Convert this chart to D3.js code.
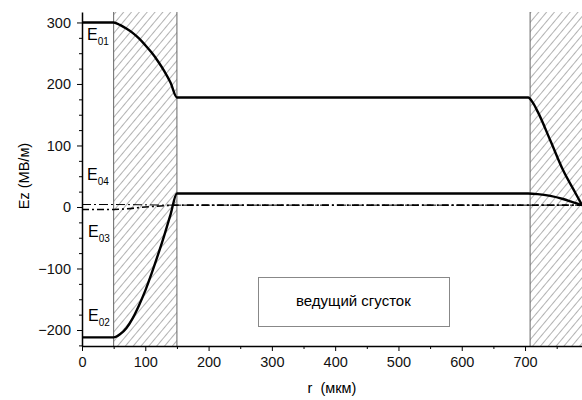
<!DOCTYPE html>
<html>
<head>
<meta charset="utf-8">
<script src="https://cdn.jsdelivr.net/npm/d3@7"></script>
<style>
  body { margin: 0; background: #fff; }
  svg { font-family: "Liberation Sans", Arial, sans-serif; }
</style>
</head>
<body>
<div id="chart"></div>
<script>
// Field curves Ez(r)
const rE01 = [0, 50, 60, 70, 80, 90, 100, 110, 120, 130, 140, 150, 705, 712, 720, 740, 760, 780, 790];
const vE01 = [300, 300, 296, 290, 283, 274, 263, 251, 237, 221, 202, 178, 178, 170, 155, 108, 60, 22, 3];
const rE02 = [0, 50, 60, 70, 80, 90, 100, 110, 120, 130, 140, 150, 705, 720, 740, 760, 775, 790];
const vE02 = [-212, -212, -207, -197, -181, -160, -136, -108, -78, -46, -12, 22, 22, 21, 18, 13, 8, 3];
const rE03 = [0, 50, 70, 100, 130, 150, 790];
const vE03 = [-4, -4, -3, 0, 2, 3, 3];
const rE04 = [0, 50, 150, 790];
const vE04 = [4, 4, 3, 3];

// hatched regions (r ranges)
const hatchZones = [[50, 150], [708, 790]];

const xTicks = [0, 100, 200, 300, 400, 500, 600, 700];
const yTicks = [-200, -100, 0, 100, 200, 300];

const width = 582, height = 400;
const margin = {left: 82, right: 0, top: 12, bottom: 54};

const svg = d3.select('#chart').append('svg')
    .attr('width', width)
    .attr('height', height);

const x = d3.scaleLinear().domain([0, 790]).range([margin.left, width - margin.right]);
const y = d3.scaleLinear().domain([-226, 317]).range([height - margin.bottom, margin.top]);

// hatch pattern
const defs = svg.append('defs');
const pat = defs.append('pattern')
    .attr('id', 'hatch')
    .attr('patternUnits', 'userSpaceOnUse')
    .attr('width', 6).attr('height', 6)
    .attr('patternTransform', 'rotate(40)');
pat.append('line')
    .attr('x1', 0).attr('y1', 0).attr('x2', 0).attr('y2', 6)
    .attr('stroke', '#666').attr('stroke-width', 1);

const zones = svg.append('g').classed('zones', true);
hatchZones.forEach(z => {
    zones.append('rect')
        .attr('x', x(z[0])).attr('y', y(317))
        .attr('width', x(z[1]) - x(z[0]))
        .attr('height', y(-226) - y(317))
        .attr('fill', 'url(#hatch)');
    zones.append('line')
        .attr('x1', x(z[0])).attr('x2', x(z[0]))
        .attr('y1', y(317)).attr('y2', y(-226))
        .attr('stroke', '#666').attr('stroke-width', 1);
    if (z[1] < 790) {
        zones.append('line')
            .attr('x1', x(z[1])).attr('x2', x(z[1]))
            .attr('y1', y(317)).attr('y2', y(-226))
            .attr('stroke', '#666').attr('stroke-width', 1);
    }
});

// legend box
svg.append('rect')
    .attr('x', 258.5).attr('y', 277.5)
    .attr('width', 191).attr('height', 49)
    .attr('fill', 'white')
    .attr('stroke', '#888').attr('stroke-width', 1);
svg.append('text')
    .attr('x', 296).attr('y', 306)
    .attr('font-size', 15)
    .text('ведущий сгусток');

// curves
const line = d3.line()
    .x(d => x(d[0]))
    .y(d => y(d[1]))
    .curve(d3.curveMonotoneX);
const zip = (rs, vs) => rs.map((r, i) => [r, vs[i]]);

const series = [
    {pts: zip(rE04, vE04), w: 1, dash: '9,3,2,3'},
    {pts: zip(rE03, vE03), w: 1.6, dash: '7,3,2,3'},
    {pts: zip(rE01, vE01), w: 2.4, dash: null},
    {pts: zip(rE02, vE02), w: 2.4, dash: null}
];
svg.append('g').classed('curves', true)
    .selectAll('path')
    .data(series)
    .join('path')
    .attr('d', d => line(d.pts))
    .attr('fill', 'none')
    .attr('stroke', 'black')
    .attr('stroke-width', d => d.w)
    .attr('stroke-dasharray', d => d.dash);

// axes
svg.append('g')
    .attr('transform', `translate(0,${y(-226)})`)
    .call(d3.axisBottom(x).tickValues(xTicks).tickSize(5).tickSizeOuter(0).tickPadding(6));
svg.append('g')
    .attr('transform', `translate(0,${y(-226)})`)
    .call(d3.axisBottom(x).tickValues(d3.range(50, 790, 100)).tickSize(3).tickSizeOuter(0).tickFormat(''))
    .select('.domain').remove();
svg.append('g')
    .attr('transform', `translate(${margin.left},0)`)
    .call(d3.axisLeft(y).tickValues(yTicks).tickSize(5).tickSizeOuter(0).tickPadding(6));
svg.append('g')
    .attr('transform', `translate(${margin.left},0)`)
    .call(d3.axisLeft(y).tickValues(d3.range(-225, 317, 25).filter(v => v % 100 !== 0)).tickSize(3).tickSizeOuter(0).tickFormat(''))
    .select('.domain').remove();

svg.selectAll('.tick text')
    .attr('font-size', 14.5)
    .attr('font-family', '"Liberation Sans", Arial, sans-serif')
    .attr('fill', '#111');
svg.selectAll('.domain').attr('stroke-width', 1.5);

// axis titles
svg.append('text')
    .attr('transform', 'translate(29,176) rotate(-90)')
    .attr('text-anchor', 'middle')
    .attr('font-size', 14.5)
    .text('Ez (МВ/м)');
svg.append('text')
    .attr('x', 332).attr('y', 393)
    .attr('text-anchor', 'middle')
    .attr('font-size', 14.5)
    .style('white-space', 'pre')
    .text('r  (мкм)');

// curve labels E0n with subscripts
const labels = [
    {name: 'E', sub: '01', x: 87, y: 40},
    {name: 'E', sub: '04', x: 87, y: 180},
    {name: 'E', sub: '03', x: 88, y: 237},
    {name: 'E', sub: '02', x: 88, y: 321}
];
const lab = svg.append('g').selectAll('text')
    .data(labels)
    .join('text')
    .attr('x', d => d.x).attr('y', d => d.y)
    .attr('font-size', 16);
lab.append('tspan').text(d => d.name);
lab.append('tspan').attr('font-size', 10).attr('dy', 5).text(d => d.sub);
</script>
</body>
</html>
